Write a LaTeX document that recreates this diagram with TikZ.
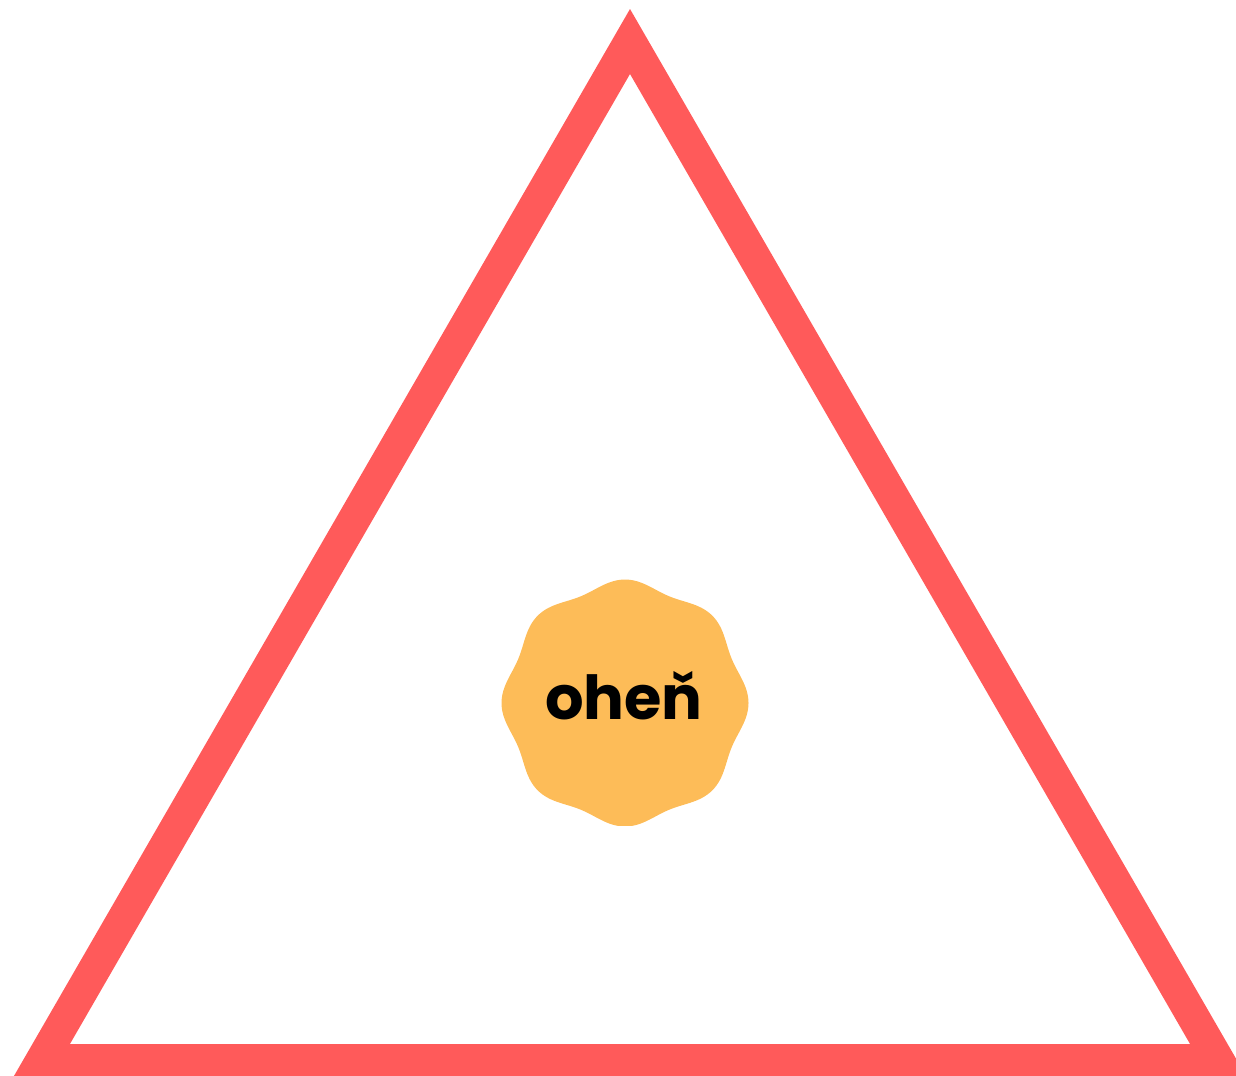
\documentclass[tikz,border=0pt]{standalone}
\usepackage{fontspec}
\newfontfamily\firefont{Poppins}
\definecolor{trired}{RGB}{255,90,90}
\definecolor{fireorange}{RGB}{253,188,88}
\usetikzlibrary{positioning}

\begin{document}
\begin{tikzpicture}[x=0.02cm, y=-0.02cm]
  \useasboundingbox (0,0) rectangle (1236,1075);
  \coordinate (apex) at (630,41.5);
  \coordinate (bl) at (41.8,1060.25);
  \coordinate (br) at (1218.2,1060.25);
  \draw[trired, line width=0.65cm, miter limit=10] (apex) -- (bl) -- (br) -- cycle;
  % wavy blob
  \begin{scope}
    \clip (400,500) rectangle (850,825);
    \fill[fireorange] plot[domain=0:360, samples=241, smooth] ({625+(119.5+4*cos(8*\x))*cos(\x)}, {703+(119.5+4*cos(8*\x))*sin(\x)}) -- cycle;
  \end{scope}
  \node[anchor=base, inner sep=0pt, font=\firefont\bfseries\fontsize{34.5}{40}\selectfont] (fire) at (624,719) {oheň};
\end{tikzpicture}
\end{document}
